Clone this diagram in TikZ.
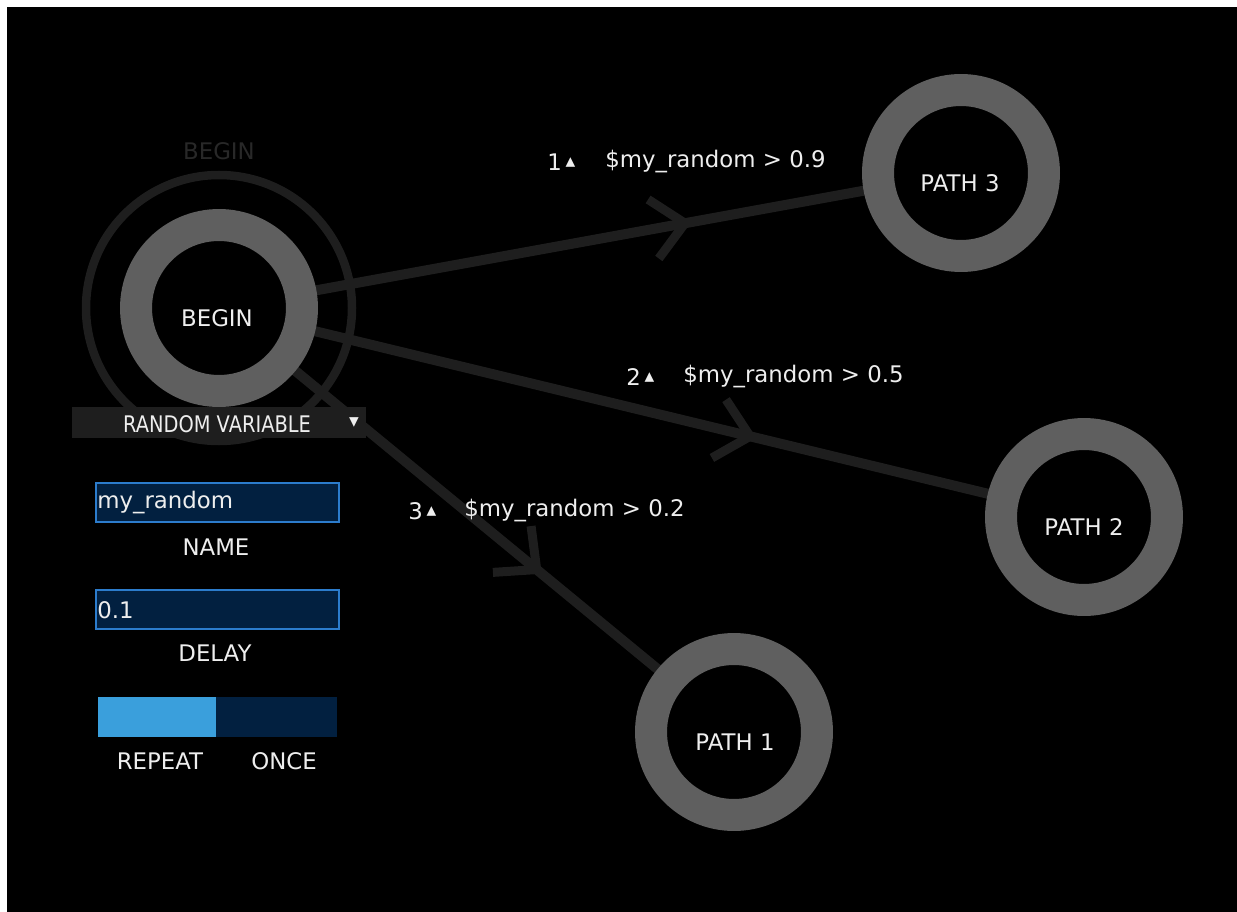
\documentclass[tikz,border=0pt]{standalone}
\usepackage{fontspec}
\setmainfont{DejaVu Sans}
\newfontfamily\symfont{DejaVu Sans}
\newfontfamily\narrowfont{DejaVu Sans}[FakeStretch=0.85]
\usetikzlibrary{decorations.markings}
\definecolor{ringgray}{RGB}{95,95,95}
\definecolor{edgegray}{RGB}{30,30,30}
\definecolor{dimgray}{RGB}{40,40,40}
\definecolor{fieldblue}{RGB}{2,32,64}
\definecolor{fieldedge}{RGB}{44,124,204}
\definecolor{onblue}{RGB}{58,159,220}
\definecolor{uitext}{RGB}{238,238,238}
\tikzset{
	state/.style={circle, draw=ringgray, fill=black, line width=0.64cm, minimum size=3.32cm, inner sep=0pt},
	uilabel/.style={text=uitext, font=\fontsize{13}{15}\selectfont, inner sep=0pt},
	edgeline/.style={draw=edgegray, line width=0.2cm},
	chevron/.style={postaction={decorate}, decoration={markings, mark=at position #1 with {\draw[edgegray, line width=0.18cm] (-32, 30) -- (0, 0) -- (-32, -30);}}},
	field/.style={fill=fieldblue, draw=fieldedge, line width=0.04cm},
}
\def\uptri{\raisebox{1.5pt}{\symfont\fontsize{11}{11}\selectfont ▴}}

\begin{document}
\begin{tikzpicture}[x=0.02cm, y=-0.02cm]
			%%%%% START %%%%%
			
			\useasboundingbox (0, 0) rectangle (1237, 912);
			\fill[white] (0, 0) rectangle (1237, 912);
			\fill[black] (7, 7) rectangle (1237, 912);
			
			% selected state halo
			\node[uilabel, text=dimgray] (haloname) at (219, 151) {BEGIN};
			\draw[edgegray, line width=0.17cm] (219, 308) circle (133);
			\fill[edgegray] (72, 407) rectangle (366, 438);
			
			% transitions
			\coordinate (b) at (219, 308);
			\coordinate (c3) at (961, 173);
			\coordinate (c2) at (1084, 517);
			\coordinate (c1) at (734, 732);
			\draw[edgeline, chevron=0.628] (b) -- (c3);
			\draw[edgeline, chevron=0.614] (b) -- (c2);
			\draw[edgeline, chevron=0.617] (b) -- (c1);
			
			% states
			\node[state] (begin) at (b) {};
			\node[uilabel] (begintxt) at (217, 318) {BEGIN};
			\node[state] (path3) at (c3) {};
			\node[uilabel] (path3txt) at (960, 183) {PATH 3};
			\node[state] (path2) at (c2) {};
			\node[uilabel] (path2txt) at (1084, 527) {PATH 2};
			\node[state] (path1) at (c1) {};
			\node[uilabel] (path1txt) at (735, 742) {PATH 1};
			
			% conditions
			\node[uilabel, anchor=west] (ord1) at (547, 162) {1\,\uptri};
			\node[uilabel, anchor=west] (cond1) at (605, 162) {\$my\_random > 0.9};
			\node[uilabel, anchor=west] (ord2) at (626, 377) {2\,\uptri};
			\node[uilabel, anchor=west] (cond2) at (683, 377) {\$my\_random > 0.5};
			\node[uilabel, anchor=west] (ord3) at (408, 511) {3\,\uptri};
			\node[uilabel, anchor=west] (cond3) at (464, 511) {\$my\_random > 0.2};
			
			% side panel
			\node[uilabel, font=\narrowfont\fontsize{13}{15}\selectfont] (kind) at (217, 424) {RANDOM VARIABLE};
			\node[text=uitext, inner sep=0pt] (kindarrow) at (354, 423) {\symfont\fontsize{11}{11}\selectfont ▾};
			
			\draw[field] (96, 483) rectangle (339, 522);
			\node[uilabel, anchor=west] (namefield) at (97, 503) {my\_random};
			\node[uilabel] (namecap) at (216, 547) {NAME};
			
			\draw[field] (96, 590) rectangle (339, 629);
			\node[uilabel, anchor=west] (delayfield) at (97, 610) {0.1};
			\node[uilabel] (delaycap) at (215, 653) {DELAY};
			
			\fill[onblue] (98, 697) rectangle (216, 737);
			\fill[fieldblue] (216, 697) rectangle (337, 737);
			\node[uilabel] (repeatcap) at (160, 761) {REPEAT};
			\node[uilabel] (oncecap) at (284, 761) {ONCE};
			
			%%%%% END %%%%%
		\end{tikzpicture}
\end{document}
